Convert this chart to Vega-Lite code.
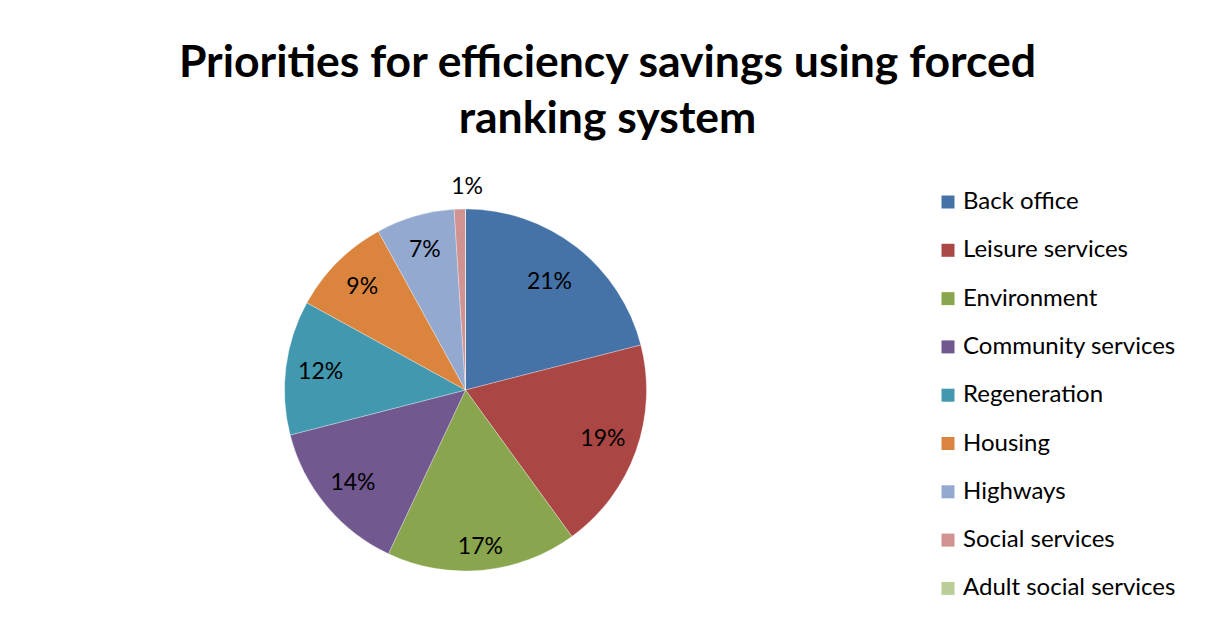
{
  "$schema": "https://vega.github.io/schema/vega-lite/v6.json",
  "autosize": "none",
  "width": 363,
  "height": 362,
  "padding": {"left": 284, "top": 209, "right": 568, "bottom": 59},
  "background": "white",
  "title": {
    "text": ["Priorities for efficiency savings using forced", "ranking system"],
    "anchor": "middle",
    "frame": "group",
    "dx": 142,
    "offset": 34,
    "font": "Lato",
    "fontSize": 44.5,
    "fontWeight": "bold",
    "color": "#000000",
    "lineHeight": 56
  },
  "data": {
    "values": [
      {"category": "Back office", "share": 0.21},
      {"category": "Leisure services", "share": 0.19},
      {"category": "Environment", "share": 0.17},
      {"category": "Community services", "share": 0.14},
      {"category": "Regeneration", "share": 0.12},
      {"category": "Housing", "share": 0.09},
      {"category": "Highways", "share": 0.07},
      {"category": "Social services", "share": 0.01},
      {"category": "Adult social services", "share": 0.0}
    ]
  },
  "encoding": {
    "theta": {"field": "share", "type": "quantitative", "stack": true},
    "order": {"field": "share", "type": "quantitative", "sort": "descending"},
    "color": {
      "field": "category",
      "type": "nominal",
      "sort": null,
      "scale": {
        "domain": ["Back office", "Leisure services", "Environment", "Community services", "Regeneration", "Housing", "Highways", "Social services", "Adult social services"],
        "range": ["#4572A7", "#AA4643", "#89A54E", "#71588F", "#4198AF", "#DB843D", "#93A9CF", "#D19392", "#B9CD96"]
      },
      "legend": {
        "orient": "none",
        "legendX": 652,
        "legendY": -19,
        "title": null,
        "symbolType": "square",
        "symbolSize": 169,
        "symbolStrokeWidth": 0,
        "labelFont": "Lato",
        "labelFontSize": 24,
        "labelColor": "#000000",
        "labelOffset": 3,
        "labelLimit": 400,
        "rowPadding": 24.3,
        "padding": 0
      }
    }
  },
  "layer": [
    {
      "mark": {"type": "arc", "outerRadius": 181, "stroke": "#ffffff", "strokeWidth": 0.5, "strokeOpacity": 0.6}
    },
    {
      "transform": [{"filter": "datum.share > 0"}],
      "mark": {
        "type": "text",
        "radius": {"expr": "datum.share < 0.03 ? 203 : datum.category == 'Back office' ? 137 : datum.category == 'Environment' ? 158 : 146"},
        "dx": {"expr": "datum.share < 0.03 ? 8 : 0"},
        "font": "Lato",
        "fontSize": 23,
        "color": "#000000"
      },
      "encoding": {
        "text": {"field": "share", "type": "quantitative", "format": ".0%"},
        "color": {"value": "#000000"}
      }
    }
  ],
  "config": {"view": {"stroke": null}}
}
